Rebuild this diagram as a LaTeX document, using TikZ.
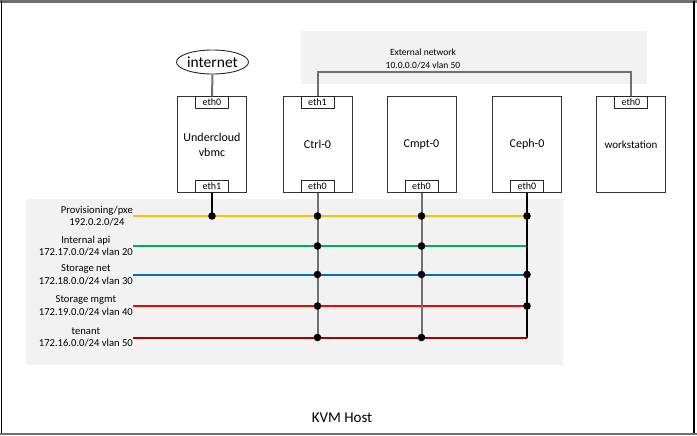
\documentclass[tikz,border=0pt]{standalone}
\usepackage{fontspec}
\setmainfont{Carlito}
\usetikzlibrary{shapes.geometric}
\definecolor{panel}{HTML}{F2F2F2}
\definecolor{wire}{HTML}{707070}
\definecolor{cyel}{HTML}{FFC000}
\definecolor{cgrn}{HTML}{00B050}
\definecolor{cblu}{HTML}{0070C0}
\definecolor{cred}{HTML}{FF0000}
\definecolor{cdrd}{HTML}{A00000}
\begin{document}
\begin{tikzpicture}[x=1pt,y=-1pt,
  host/.style={draw=black!80, line width=0.9pt, fill=white, minimum width=69, minimum height=96, inner sep=0, align=center, font=\fontsize{12}{15}\selectfont},
  port/.style={draw=black!85, line width=0.8pt, fill=white, minimum width=33, minimum height=12, inner sep=0, font=\fontsize{10}{11}\selectfont},
  netlbl/.style={align=center, inner sep=0, font=\fontsize{10.6}{12.7}\selectfont},
  gwire/.style={draw=wire, line width=2pt},
  bwire/.style={draw=black, line width=1.3pt},
  net/.style={line width=2pt},
  dot/.style={circle, fill=black, inner sep=0, minimum size=7.6}
]
\useasboundingbox (0,0) rectangle (697,436);
% outer frame
\draw[draw=wire, line width=2.5pt] (0,1.5) -- (697,1.5);
\draw[draw=wire, line width=2.5pt] (0,434) -- (697,434);
\draw[black, line width=1.5pt] (1.5,1) -- (1.5,433);
\draw[black, line width=1.5pt] (694,1) -- (694,433);
% panels
\fill[panel] (301,31) rectangle (647,84);
\fill[panel] (26,199) rectangle (563,365);
\node[netlbl, font=\fontsize{9.5}{12.5}\selectfont] (ext) at (423,59) {External network\\10.0.0.0/24 vlan 50};
% internet
\node[ellipse, draw=black!85, line width=0.9pt, fill=white, minimum width=72, minimum height=24, inner sep=0, font=\fontsize{15.5}{17}\selectfont] (inet) at (212.5,62) {internet};
% hosts
\node[host] (uc) at (212,144.5) {Undercloud\\vbmc};
\node[host] (ctrl) at (317.5,144.5) {Ctrl-0};
\node[host] (cmpt) at (421.5,144.5) {Cmpt-0};
\node[host] (ceph) at (527,144.5) {Ceph-0};
\node[host, font=\fontsize{11}{13}\selectfont] (ws) at (631,144.5) {workstation};
% ports
\node[port, anchor=north] (uc0) at (uc.north) {eth0};
\node[port, anchor=south] (uc1) at (uc.south) {eth1};
\node[port, anchor=north] (ct1) at (ctrl.north) {eth1};
\node[port, anchor=south] (ct0) at (ctrl.south) {eth0};
\node[port, anchor=south] (cm0) at (cmpt.south) {eth0};
\node[port, anchor=south] (ce0) at (ceph.south) {eth0};
\node[port, anchor=north] (ws0) at (ws.north) {eth0};
% external links
\draw[gwire] (inet.south) -- (uc0.north);
\coordinate (xa) at (317.5,72.5);
\coordinate (xb) at (631,72.5);
\draw[gwire] (ct1.north) -- (xa) -- (xb) -- (ws0.north);
% network lines
\coordinate (s1) at (133,216);
\coordinate (s2) at (133,246);
\coordinate (s3) at (133,274.5);
\coordinate (s4) at (133,306);
\coordinate (s5) at (133,337.5);
\coordinate (e1) at (527,216);
\coordinate (e2) at (527,246);
\coordinate (e3) at (527,274.5);
\coordinate (e4) at (527,306);
\coordinate (e5) at (527,337.5);
\draw[net, cyel] (s1) -- (e1);
\draw[net, cgrn] (s2) -- (e2);
\draw[net, cblu] (s3) -- (e3);
\draw[net, cred] (s4) -- (e4);
\draw[net, cdrd] (s5) -- (e5);
% labels
\node[netlbl, anchor=east] (l1) at (s1) {Provisioning/pxe\\192.0.2.0/24};
\node[netlbl, anchor=east] (l2) at (s2) {Internal api\\172.17.0.0/24 vlan 20};
\node[netlbl, anchor=east] (l3) at (s3) {Storage net\\172.18.0.0/24 vlan 30};
\node[netlbl, anchor=east] (l4) at (s4) {Storage mgmt\\172.19.0.0/24 vlan 40};
\node[netlbl, anchor=east] (l5) at (s5) {tenant\\172.16.0.0/24 vlan 50};
% verticals
\coordinate (u1) at (212,216);
\coordinate (c5) at (317.5,337.5);
\coordinate (m5) at (421.5,337.5);
\draw[bwire] (uc1.south) -- (u1);
\draw[gwire] (ct0.south) -- (c5);
\draw[gwire] (cm0.south) -- (m5);
\draw[bwire] (ce0.south) -- (e5);
% dots
\node[dot] (d0) at (u1) {};
\foreach \yy [count=\i] in {216,246,274.5,306,337.5} {
  \node[dot] (dc\i) at (317.5,\yy) {};
}
\foreach \yy [count=\i] in {216,246,274.5,337.5} {
  \node[dot] (dm\i) at (421.5,\yy) {};
}
\node[dot] (dx1) at (e1) {};
\node[dot] (dx3) at (e3) {};
\node[dot] (dx4) at (e4) {};
% title
\node[font=\fontsize{15}{17}\selectfont, inner sep=0] (kvm) at (342,418) {KVM Host};
\end{tikzpicture}
\end{document}
